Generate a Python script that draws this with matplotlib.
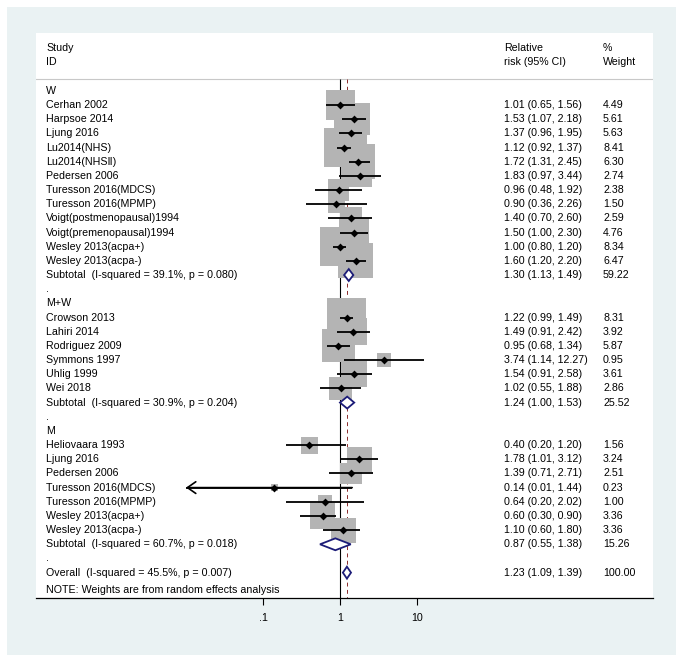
import matplotlib
matplotlib.use("Agg")
import matplotlib.pyplot as plt
import matplotlib.transforms as mtransforms
from matplotlib.patches import Rectangle, Polygon

plt.rcParams['font.family'] = ['Liberation Sans', 'DejaVu Sans']

# ===== data ===== #
group_names = ['W', 'M+W', 'M']

w_studies = ['Cerhan 2002', 'Harpsoe 2014', 'Ljung 2016', 'Lu2014(NHS)', 'Lu2014(NHSⅡ)',
             'Pedersen 2006', 'Turesson 2016(MDCS)', 'Turesson 2016(MPMP)',
             'Voigt(postmenopausal)1994', 'Voigt(premenopausal)1994',
             'Wesley 2013(acpa+)', 'Wesley 2013(acpa-)']
w_rr = [1.01, 1.53, 1.37, 1.12, 1.72, 1.83, 0.96, 0.90, 1.40, 1.50, 1.00, 1.60]
w_lo = [0.65, 1.07, 0.96, 0.92, 1.31, 0.97, 0.48, 0.36, 0.70, 1.00, 0.80, 1.20]
w_hi = [1.56, 2.18, 1.95, 1.37, 2.45, 3.44, 1.92, 2.26, 2.60, 2.30, 1.20, 2.20]
w_wt = [4.49, 5.61, 5.63, 8.41, 6.30, 2.74, 2.38, 1.50, 2.59, 4.76, 8.34, 6.47]

mw_studies = ['Crowson 2013', 'Lahiri 2014', 'Rodriguez 2009', 'Symmons 1997',
              'Uhlig 1999', 'Wei 2018']
mw_rr = [1.22, 1.49, 0.95, 3.74, 1.54, 1.02]
mw_lo = [0.99, 0.91, 0.68, 1.14, 0.91, 0.55]
mw_hi = [1.49, 2.42, 1.34, 12.27, 2.58, 1.88]
mw_wt = [8.31, 3.92, 5.87, 0.95, 3.61, 2.86]

m_studies = ['Heliovaara 1993', 'Ljung 2016', 'Pedersen 2006', 'Turesson 2016(MDCS)',
             'Turesson 2016(MPMP)', 'Wesley 2013(acpa+)', 'Wesley 2013(acpa-)']
m_rr = [0.40, 1.78, 1.39, 0.14, 0.64, 0.60, 1.10]
m_lo = [0.20, 1.01, 0.71, 0.01, 0.20, 0.30, 0.60]
m_hi = [1.20, 3.12, 2.71, 1.44, 2.02, 0.90, 1.80]
m_wt = [1.56, 3.24, 2.51, 0.23, 1.00, 3.36, 3.36]

# subtotals: i-squared, p, rr, lo, hi, weight
sub_i2 = [39.1, 30.9, 60.7]
sub_p = ['0.080', '0.204', '0.018']
sub_rr = [1.30, 1.24, 0.87]
sub_lo = [1.13, 1.00, 0.55]
sub_hi = [1.49, 1.53, 1.38]
sub_wt = [59.22, 25.52, 15.26]

overall = dict(i2=45.5, p='0.007', rr=1.23, lo=1.09, hi=1.39, wt=100.00)

groups = [
    (w_studies, w_rr, w_lo, w_hi, w_wt),
    (mw_studies, mw_rr, mw_lo, mw_hi, mw_wt),
    (m_studies, m_rr, m_lo, m_hi, m_wt),
]

# ===== figure ===== #
W, H = 683, 663
fig = plt.figure(figsize=(W / 100, H / 100), dpi=100)
fig.patch.set_facecolor('white')
bg = Rectangle((7 / W, 1 - 655 / H), 669 / W, 648 / H, transform=fig.transFigure,
               facecolor='#eaf2f3', edgecolor='none', zorder=-10)
fig.add_artist(bg)

ax = fig.add_axes([36 / W, 1 - 598 / H, 617 / W, 565 / H])
ax.set_zorder(1)
ax.set_facecolor('white')
ax.set_xscale('log')
ax.set_xlim(10 ** ((36 - 340) / 77), 10 ** ((653 - 340) / 77))
ax.set_ylim(35.79, -4.08)
for s in ['top', 'left', 'right']:
    ax.spines[s].set_visible(False)
ax.spines['bottom'].set_linewidth(0.9)
ax.set_yticks([])
ax.set_xticks([0.1, 1, 10])
ax.set_xticklabels(['.1', '1', '10'])
ax.xaxis.set_minor_locator(matplotlib.ticker.NullLocator())
ax.tick_params(axis='x', length=5, width=0.8, pad=6, labelsize=7.7)

tr = mtransforms.blended_transform_factory(ax.transAxes, ax.transData)
fs = 7.7
x_lab, x_rr, x_wt = 0.0162, 0.7585, 0.919

# header
ax.text(x_lab, -3.02, 'Study', transform=tr, fontsize=fs, va='center')
ax.text(x_lab, -2.0, 'ID', transform=tr, fontsize=fs, va='center')
ax.text(x_rr, -3.02, 'Relative', transform=tr, fontsize=fs, va='center')
ax.text(x_rr, -2.0, 'risk (95% CI)', transform=tr, fontsize=fs, va='center')
ax.text(x_wt, -3.02, '%', transform=tr, fontsize=fs, va='center')
ax.text(x_wt, -2.0, 'Weight', transform=tr, fontsize=fs, va='center')
ax.axhline(-0.83, color='#c8c8c8', lw=0.8, zorder=1)

# reference lines
y_top, y_bot = -0.83, 35.79
ax.vlines(1, y_top, y_bot, color='black', lw=0.8, zorder=1)
ax.vlines(overall['rr'], y_top, y_bot, color='#8b2c2c', lw=0.7,
          linestyles=(0, (4, 3.5)), zorder=1)


def fmt_ci(rr, lo, hi):
    return '{:.2f} ({:.2f}, {:.2f})'.format(rr, lo, hi)


def draw_diamond(y, rr, lo, hi):
    d = Polygon([(lo, y), (rr, y - 0.42), (hi, y), (rr, y + 0.42)], closed=True,
                facecolor='white', edgecolor='#1c1c78', lw=1.3, zorder=5)
    ax.add_patch(d)


row = 0
for g, (names, rr, lo, hi, wt) in enumerate(groups):
    ax.text(x_lab, row, group_names[g], transform=tr, fontsize=fs, va='center')
    row += 1
    ys = list(range(row, row + len(names)))
    ax.scatter(rr, ys, marker='s', s=[97.3 * w for w in wt], color='#b4b4b4',
               linewidths=0, zorder=2)
    ax.hlines(ys, lo, hi, color='black', lw=1.3, zorder=3)
    ax.scatter(rr, ys, marker='D', s=16, color='black', linewidths=0, zorder=4)
    for y, n, r, l, h, w in zip(ys, names, rr, lo, hi, wt):
        ax.text(x_lab, y, n, transform=tr, fontsize=fs, va='center')
        ax.text(x_rr, y, fmt_ci(r, l, h), transform=tr, fontsize=fs, va='center')
        ax.text(x_wt, y, '{:.2f}'.format(w), transform=tr, fontsize=fs, va='center')
        if l <= 0.01:
            ax.annotate('', xy=(l, y), xytext=(h, y), zorder=3,
                        arrowprops=dict(arrowstyle='->,head_length=0.5,head_width=0.35',
                                        lw=1.2, color='black', shrinkA=0, shrinkB=0,
                                        mutation_scale=12))
    row += len(names)
    label = 'Subtotal  (I-squared = {:.1f}%, p = {})'.format(sub_i2[g], sub_p[g])
    ax.text(x_lab, row, label, transform=tr, fontsize=fs, va='center')
    ax.text(x_rr, row, fmt_ci(sub_rr[g], sub_lo[g], sub_hi[g]), transform=tr,
            fontsize=fs, va='center')
    ax.text(x_wt, row, '{:.2f}'.format(sub_wt[g]), transform=tr, fontsize=fs, va='center')
    draw_diamond(row, sub_rr[g], sub_lo[g], sub_hi[g])
    row += 1
    ax.text(x_lab, row, '.', transform=tr, fontsize=fs, va='center')
    row += 1

# overall
ax.text(x_lab, row, 'Overall  (I-squared = {:.1f}%, p = {})'.format(overall['i2'], overall['p']),
        transform=tr, fontsize=fs, va='center')
ax.text(x_rr, row, fmt_ci(overall['rr'], overall['lo'], overall['hi']), transform=tr,
        fontsize=fs, va='center')
ax.text(x_wt, row, '{:.2f}'.format(overall['wt']), transform=tr, fontsize=fs, va='center')
draw_diamond(row, overall['rr'], overall['lo'], overall['hi'])

ax.text(x_lab, row + 1.25, 'NOTE: Weights are from random effects analysis',
        transform=tr, fontsize=fs, va='center')

fig.savefig('out.png', dpi=100)
